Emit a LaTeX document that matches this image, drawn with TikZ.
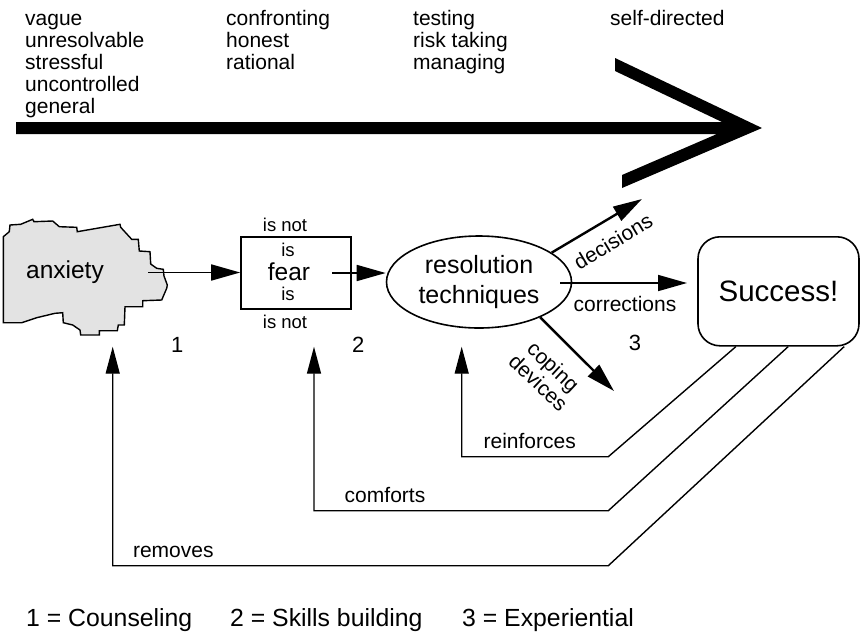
\documentclass[tikz,border=0pt]{standalone}
\usepackage{fontspec}
\setmainfont{Liberation Sans}
\usetikzlibrary{arrows.meta,shapes.geometric,calc}

\begin{document}
\begin{tikzpicture}[x=1pt,y=-1pt,
  lbl/.style={font=\fontsize{21}{22}\selectfont, inner sep=0pt},
  small/.style={font=\fontsize{18.5}{20}\selectfont, inner sep=0pt},
  big/.style={font=\fontsize{24.5}{30}\selectfont, inner sep=0pt},
  num/.style={font=\fontsize{22}{24}\selectfont, inner sep=0pt},
  key/.style={font=\fontsize{24.8}{27}\selectfont, inner sep=0pt, anchor=base west},
  bigtip/.style={-{Triangle[length=29pt,width=16pt]}},
  fbtip/.style={-{Triangle[length=27pt,width=14pt]}},
  flow/.style={bigtip, line width=1.7pt},
  outflow/.style={bigtip, line width=2.4pt},
  feedback/.style={fbtip, line width=1.4pt, line join=miter},
]
\useasboundingbox (0,0) rectangle (865,633);

% word lists above the progression arrow
\node[lbl, anchor=base west] (w1) at (25,25)
  {\begin{tabular}[t]{@{}l@{}}vague\\unresolvable\\stressful\\uncontrolled\\general\end{tabular}};
\node[lbl, anchor=base west] (w2) at (226,25)
  {\begin{tabular}[t]{@{}l@{}}confronting\\honest\\rational\end{tabular}};
\node[lbl, anchor=base west] (w3) at (413,25)
  {\begin{tabular}[t]{@{}l@{}}testing\\risk taking\\managing\end{tabular}};
\node[lbl, anchor=base west] (w4) at (610,25) {self-directed};

% heavy progression arrow
\fill (16,122) -- (722,122) -- (615,71) -- (615,58) -- (762,128)
      -- (622,188) -- (622,175) -- (717,134) -- (16,134) -- cycle;

% anxiety cloud
\filldraw[fill=black!11, line width=1.4pt, line join=miter]
  (3.3,322.7) -- (3.3,236.7) -- (9.3,231.7) -- (10,225) -- (20.7,224.3)
  -- (32.7,219.3) -- (34,221.7) -- (52.7,221) -- (59.3,226.7) -- (76.7,227.3)
  -- (77.3,231.7) -- (120,224.3) -- (120.7,227.3) -- (131.7,239.3) -- (138.3,239.3)
  -- (139.3,251) -- (150,251.7) -- (150.7,264) -- (156.7,268.3) -- (163.3,269.3)
  -- (164,276) -- (167.3,285) -- (166.7,288.3) -- (161.7,300) -- (142.7,300.7)
  -- (142.7,306.7) -- (125,306.7) -- (124.3,325) -- (118.3,325) -- (117.3,330.7)
  -- (99.3,330.7) -- (99.3,335) -- (80.7,335) -- (80,330) -- (72.7,325)
  -- (63.3,322.7) -- (62.7,312.7) -- (55,313.3) -- (36.7,317.7) -- (21.7,322.7) -- cycle;
\node[big] (anx) at (65,272) {anxiety};
\coordinate (anxout) at (148,272.5);

% fear box
\node[draw, line width=1.6pt, minimum width=110pt, minimum height=72pt, inner sep=0pt] (fear) at (296,273) {};
\node[small, anchor=base] (isnot1) at (285,231.5) {is not};
\node[small, anchor=base] (is1) at (288,256.5) {is};
\node[big, anchor=base] (feartxt) at (289,280) {fear};
\node[small, anchor=base] (is2) at (288,300) {is};
\node[small, anchor=base] (isnot2) at (285,328) {is not};
\coordinate (fearout) at (332,273);

% resolution techniques
\node[draw, ellipse, line width=1.6pt, minimum width=185pt, minimum height=92pt,
      inner sep=0pt, align=center, font=\fontsize{25}{30}\selectfont] (res) at (479,282)
  {resolution\\techniques};

% success
\node[draw, rounded corners=22pt, line width=1.6pt, minimum width=161pt, minimum height=109pt,
      inner sep=0pt, font=\fontsize{29.5}{32}\selectfont] (succ) at (778.5,291.3) {Success!};

% forward connectors
\draw[flow] (anxout) -- (fear.west |- anxout);
\draw[flow] (fearout) -- (res.west |- fearout);

\coordinate (decend) at (642,199);
\coordinate (corrstart) at (560,283);
\coordinate (corrend) at (687,283);
\coordinate (copend) at (614,391);
\draw[outflow] (res.22) -- (decend);
\draw[flow] (corrstart) -- (corrend);
\draw[outflow] (res.-30) -- (copend);

\node[lbl, rotate=31] (dec) at (613,241.5) {decisions};
\node[lbl, anchor=base] (corr) at (625,311.5) {corrections};
\node[lbl, rotate=-43, align=center] (cop) at (546,374.5) {coping\\devices};

% stage numbers
\node[num] (n1) at (177.3,345) {1};
\node[num] (n2) at (358.3,345) {2};
\node[num] (n3) at (635,343) {3};

% feedback paths
\coordinate (fb1) at ($(succ.south west)+(38.7,0)$);
\coordinate (fb2) at ($(succ.south west)+(91,0)$);
\coordinate (fb3) at ($(succ.south west)+(147,0)$);
\coordinate (reinf) at (461.7,346.7);
\coordinate (comf) at (314,346.7);
\coordinate (remv) at (112.7,346.7);

\draw[feedback] (fb1) -- (608.3,456.7) -- (461.7,456.7) -- (reinf);
\draw[feedback] (fb2) -- (608.3,510.7) -- (314,510.7) -- (comf);
\draw[feedback] (fb3) -- (608.3,565.7) -- (112.7,565.7) -- (remv);

\node[lbl, anchor=base] (lreinf) at (529.7,448) {reinforces};
\node[lbl, anchor=base] (lcomf) at (385,502.5) {comforts};
\node[lbl, anchor=base] (lremv) at (173.3,557) {removes};

% legend
\node[key] (k1) at (26,626.5) {1 = Counseling};
\node[key] (k2) at (230,626.5) {2 = Skills building};
\node[key] (k3) at (462,626.5) {3 = Experiential};
\end{tikzpicture}
\end{document}
